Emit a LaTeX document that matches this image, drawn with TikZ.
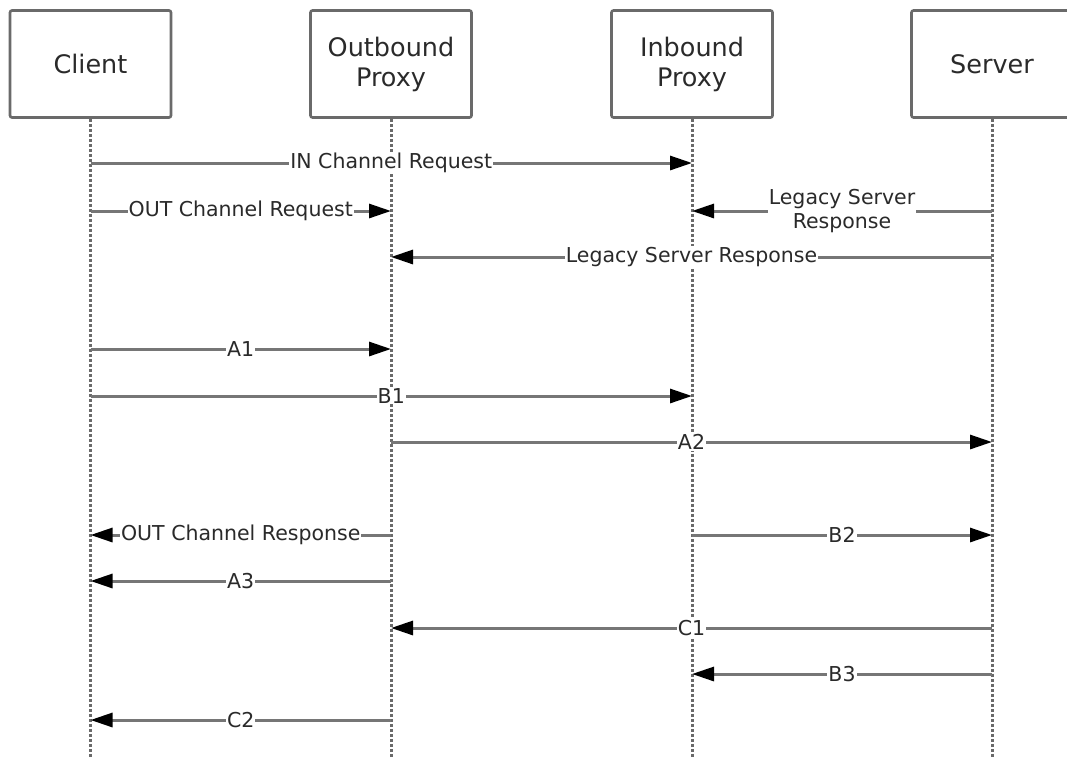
\documentclass[tikz,border=0pt]{standalone}
\usepackage{fontspec}
\setmainfont{DejaVu Sans}
\usetikzlibrary{arrows.meta}
\definecolor{linegray}{HTML}{6A6A6A}
\definecolor{msggray}{HTML}{767676}
\definecolor{textgray}{HTML}{2A2A2A}
\tikzset{
  actor/.style={draw=linegray, line width=2.6pt, rounded corners=2pt,
    minimum width=161pt, minimum height=107pt, inner sep=0pt,
    align=center, text=textgray, font=\fontsize{25.5}{30}\selectfont},
  life/.style={draw=linegray, line width=3pt, dash pattern=on 3pt off 2pt},
  msg/.style={draw=msggray, line width=3pt,
    -{Triangle[length=22pt,width=14pt,color=black]}},
  lbl/.style={fill=white, inner xsep=1pt, inner ysep=1pt, align=center,
    text=textgray, font=\fontsize{20.5}{24}\selectfont}
}
\begin{document}
\begin{tikzpicture}[x=1pt,y=-1pt]
      \useasboundingbox (0,0) rectangle (1067,758);
      \draw
        (90.5,64) node[actor] (client){Client}
        (391,64) node[actor] (outp){Outbound\\Proxy}
        (692,64) node[actor] (inp){Inbound\\Proxy}
        (992,64) node[actor] (server){Server};
      \coordinate (cend) at (90.5,758);
      \coordinate (oend) at (391,758);
      \coordinate (iend) at (692,758);
      \coordinate (send) at (992,758);
      \draw[life] (client.south) -- (cend);
      \draw[life] (outp.south) -- (oend);
      \draw[life] (inp.south) -- (iend);
      \draw[life] (server.south) -- (send);
      \draw[msg] (client |- 0,163) -- node[lbl]{IN Channel Request} (inp |- 0,163);
      \draw[msg] (client |- 0,211) -- node[lbl]{OUT Channel Request} (outp |- 0,211);
      \draw[msg] (server |- 0,211) -- node[lbl]{Legacy Server\\Response} (inp |- 0,211);
      \draw[msg] (server |- 0,257) -- node[lbl]{Legacy Server Response} (outp |- 0,257);
      \draw[msg] (client |- 0,349) -- node[lbl]{A1} (outp |- 0,349);
      \draw[msg] (client |- 0,396) -- node[lbl]{B1} (inp |- 0,396);
      \draw[msg] (outp |- 0,442) -- node[lbl]{A2} (server |- 0,442);
      \draw[msg] (outp |- 0,535) -- node[lbl]{OUT Channel Response} (client |- 0,535);
      \draw[msg] (inp |- 0,535) -- node[lbl]{B2} (server |- 0,535);
      \draw[msg] (outp |- 0,581) -- node[lbl]{A3} (client |- 0,581);
      \draw[msg] (server |- 0,628) -- node[lbl]{C1} (outp |- 0,628);
      \draw[msg] (server |- 0,674) -- node[lbl]{B3} (inp |- 0,674);
      \draw[msg] (outp |- 0,720) -- node[lbl]{C2} (client |- 0,720);
    \end{tikzpicture}
\end{document}
